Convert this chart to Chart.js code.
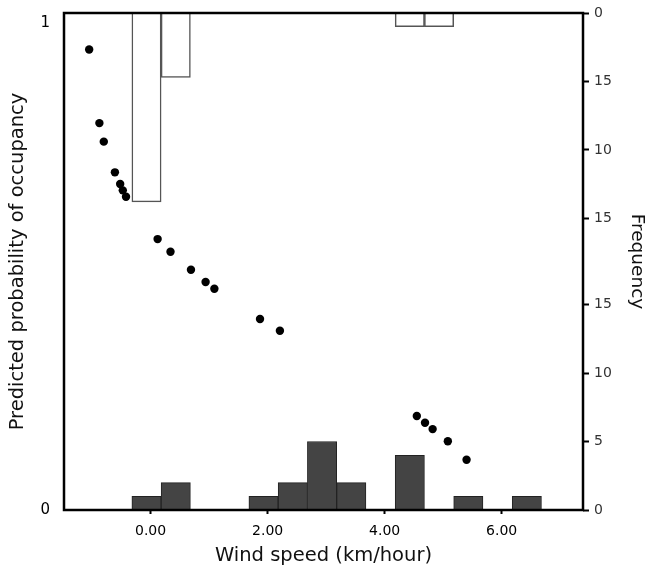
<!DOCTYPE html>
<html lang="en">
<head>
  <meta charset="UTF-8">
  <title>Wind speed and occupancy</title>
  <style>
    body {
      margin: 0;
      background: #fff;
    }
    #chart {
      display: block;
    }
  </style>
  <script src="https://cdn.jsdelivr.net/npm/chart.js@4"></script>
</head>
<body>
  <canvas id="chart" width="646" height="575"></canvas>

  <script>
    // predicted probability of occupancy (dots)
    const windSpeed = [-1.05, -0.875, -0.80, -0.61, -0.52, -0.475, -0.42, 0.12, 0.34, 0.69, 0.94, 1.09, 1.87, 2.21, 4.55, 4.69, 4.82, 5.08, 5.40];
    const probOccupancy = [0.945, 0.794, 0.756, 0.693, 0.669, 0.656, 0.643, 0.556, 0.530, 0.493, 0.468, 0.454, 0.392, 0.368, 0.193, 0.179, 0.166, 0.141, 0.103];

    // histogram along the bottom (filled bars)
    const bottomBins = [-0.07, 0.43, 1.93, 2.43, 2.93, 3.43, 4.43, 5.43, 6.43];
    const bottomFreq = [1, 2, 1, 2, 5, 2, 4, 1, 1];

    // histogram hanging from the top (open bars)
    const topBins = [-0.07, 0.43, 4.43, 4.93];
    const topFreq = [13.8, 4.7, 1, 1];

    // axis ticks and labels
    const xTicks = [0, 2, 4, 6];
    const xTickLabels = ['0.00', '2.00', '4.00', '6.00'];
    const probTicks = [0, 1];
    const freqTicks = [0, 5, 10, 15];
    const freqLabelsBottom = ['0', '5', '10', '15'];
    const freqLabelsTop = ['0', '15', '10', '15'];

    const freqMax = 36.3; // frequency units spanning the full plot height

    // plain black frame round the plot area
    const framePlugin = {
      id: 'frame',
      afterDraw(chart) {
        const a = chart.chartArea;
        const ctx = chart.ctx;
        ctx.save();
        ctx.strokeStyle = '#000';
        ctx.lineWidth = 2.5;
        ctx.strokeRect(a.left, a.top, a.right - a.left, a.bottom - a.top);
        ctx.restore();
      }
    };

    // stop the side axes from pushing the plot area down
    function noEdgePadding(s) {
      s.paddingTop = 0;
      s.paddingBottom = 0;
    }

    Chart.defaults.font.family = 'DejaVu Sans';
    Chart.defaults.color = '#111';

    new Chart(document.getElementById('chart'), {
      type: 'bar',
      data: {
        datasets: [
          {
            type: 'scatter',
            data: windSpeed.map((x, i) => ({ x: x, y: probOccupancy[i] })),
            xAxisID: 'x',
            yAxisID: 'yProb',
            pointRadius: 4.2,
            pointBackgroundColor: '#000',
            pointBorderWidth: 0
          },
          {
            data: topBins.map((x, i) => ({ x: x, y: topFreq[i] })),
            xAxisID: 'x',
            yAxisID: 'yTop',
            grouped: false,
            barPercentage: 1,
            categoryPercentage: 1,
            backgroundColor: '#fff',
            borderColor: '#555',
            borderWidth: 1.5
          },
          {
            data: bottomBins.map((x, i) => ({ x: x, y: bottomFreq[i] })),
            xAxisID: 'x',
            yAxisID: 'yFreq',
            grouped: false,
            barPercentage: 1,
            categoryPercentage: 1,
            backgroundColor: '#444',
            borderColor: '#222',
            borderWidth: 1
          }
        ]
      },
      options: {
        responsive: false,
        animation: false,
        devicePixelRatio: 1,
        layout: { padding: { top: 13, left: 0, right: 0, bottom: 0 } },
        plugins: {
          legend: { display: false },
          tooltip: { enabled: false }
        },
        scales: {
          x: {
            type: 'linear',
            position: 'bottom',
            min: -1.48,
            max: 7.39,
            offset: false,
            afterBuildTicks: s => { s.ticks = xTicks.map(v => ({ value: v })); },
            afterFit: s => { s.height = 65; },
            border: { display: false },
            grid: { drawOnChartArea: false, offset: false, tickLength: 4, tickWidth: 2, tickColor: '#000' },
            ticks: {
              padding: 9,
              maxRotation: 0,
              color: '#000',
              font: { size: 14 },
              callback: (v, i) => xTickLabels[i]
            },
            title: {
              display: true,
              text: 'Wind speed (km/hour)',
              font: { size: 19.5, lineHeight: 1 },
              padding: { top: 0, bottom: 9 }
            }
          },
          yProb: {
            type: 'linear',
            position: 'left',
            min: 0,
            max: 1.02,
            afterBuildTicks: s => { s.ticks = probTicks.map(v => ({ value: v })); },
            afterFit: s => { s.width = 64; noEdgePadding(s); },
            border: { display: false },
            grid: { drawOnChartArea: false, drawTicks: false },
            ticks: {
              padding: 14,
              color: '#000',
              font: { size: 15 },
              callback: v => String(v)
            },
            title: {
              display: true,
              text: 'Predicted probability of occupancy',
              font: { size: 19.5, lineHeight: 1 },
              padding: { top: 8, bottom: 0 }
            }
          },
          yFreq: {
            type: 'linear',
            position: 'right',
            min: 0,
            max: freqMax,
            afterBuildTicks: s => {
              const bottom = freqTicks.map(v => ({ value: v }));
              const top = freqTicks.slice().reverse().map(v => ({ value: freqMax - v }));
              s.ticks = bottom.concat(top);
            },
            afterFit: s => { s.width = 63; noEdgePadding(s); },
            border: { display: false },
            grid: { drawOnChartArea: false, tickLength: 6, tickWidth: 2, tickColor: '#000' },
            ticks: {
              padding: 5,
              color: '#333',
              font: { size: 14 },
              callback: (v, i) => i < freqLabelsBottom.length
                ? freqLabelsBottom[i]
                : freqLabelsTop[freqLabelsTop.length - 1 - (i - freqLabelsBottom.length)]
            },
            title: {
              display: true,
              text: 'Frequency',
              font: { size: 18.5, lineHeight: 1 },
              padding: { top: 0, bottom: 0 }
            }
          },
          yTop: {
            type: 'linear',
            position: 'right',
            display: false,
            reverse: true,
            min: 0,
            max: freqMax
          }
        }
      },
      plugins: [framePlugin]
    });
  </script>
</body>
</html>
